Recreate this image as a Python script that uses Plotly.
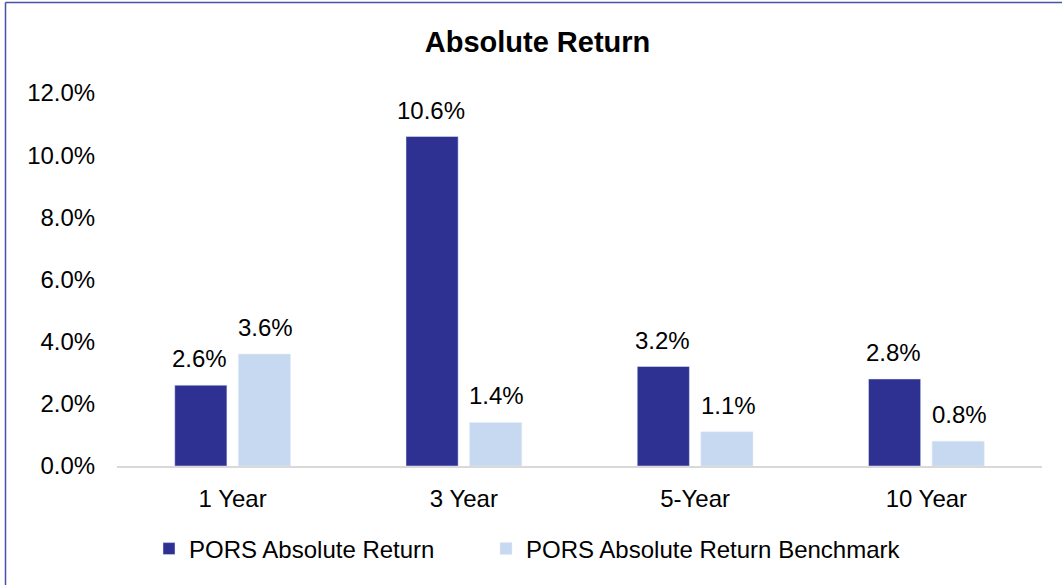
import plotly.graph_objects as go

categories = ["1 Year", "3 Year", "5-Year", "10 Year"]
pors_return = [2.6, 10.6, 3.2, 2.8]
benchmark_return = [3.6, 1.4, 1.1, 0.8]
series_names = ["PORS Absolute Return", "PORS Absolute Return Benchmark"]
y_ticks = [0, 2, 4, 6, 8, 10, 12]
y_tick_labels = [f"{v:.1f}%" for v in y_ticks]

FONT = "Arial, Liberation Sans, sans-serif"
L, R, T, B = 117, 20, 93, 119
PW = 1062 - L - R
PH = 585 - T - B


def px_x(p):
    return (p - L) / PW


def px_y(p):
    return (585 - B - p) / PH


fig = go.Figure()
fig.add_trace(go.Bar(
    x=categories, y=pors_return, name=series_names[0],
    marker=dict(color="#2E3192"), legend="legend",
))
fig.add_trace(go.Bar(
    x=categories, y=benchmark_return, name=series_names[1],
    marker=dict(color="#C6D9F1"), legend="legend2",
))

annotations = []
for series, shift in ((pors_return, -33), (benchmark_return, 33)):
    for cat, val in zip(categories, series):
        annotations.append(dict(
            x=cat, y=val, xref="x", yref="y", text=f"{val:.1f}%",
            showarrow=False, xanchor="center", yanchor="bottom",
            xshift=shift, yshift=11,
            font=dict(size=24, family=FONT, color="#000000"),
        ))

legend_common = dict(orientation="h", yanchor="middle", xanchor="left",
                     font=dict(size=24, family=FONT, color="#000000"),
                     bgcolor="rgba(0,0,0,0)")

fig.update_layout(
    width=1062, height=585,
    margin=dict(l=L, r=R, t=T, b=B, autoexpand=False),
    paper_bgcolor="white", plot_bgcolor="white",
    font=dict(family=FONT, size=24, color="#000000"),
    title=dict(text="<b>Absolute Return</b>", x=537.5 / 1062, xref="container", xanchor="center",
               y=(585 - 42) / 585, yref="container", yanchor="middle",
               font=dict(size=29, family=FONT, color="#000000")),
    barmode="group", bargap=0.45, bargroupgap=0.18,
    showlegend=True,
    legend=dict(x=px_x(149), y=px_y(549), **legend_common),
    legend2=dict(x=px_x(486), y=px_y(549), **legend_common),
    xaxis=dict(showline=True, linecolor="#D9D9D9", linewidth=2,
               ticks="outside", ticklen=10, tickcolor="rgba(0,0,0,0)",
               tickfont=dict(size=24, family=FONT, color="#000000"),
               showgrid=False, zeroline=False),
    yaxis=dict(range=[0, 12], tickvals=y_ticks, ticktext=y_tick_labels,
               showgrid=False, zeroline=False, showline=False,
               ticks="outside", ticklen=16, tickcolor="rgba(0,0,0,0)",
               tickfont=dict(size=24, family=FONT, color="#000000")),
    annotations=annotations,
    shapes=[
        dict(type="line", xref="paper", yref="paper",
             x0=px_x(5.5), x1=px_x(1070), y0=px_y(2.5), y1=px_y(2.5),
             line=dict(color="#4A4FA8", width=1.5)),
        dict(type="line", xref="paper", yref="paper",
             x0=px_x(5.5), x1=px_x(5.5), y0=px_y(2.5), y1=px_y(600),
             line=dict(color="#4A4FA8", width=1.5)),
    ],
)

fig.write_html("out.html", config={"displayModeBar": False},
               post_script="document.body.style.margin='0';")
